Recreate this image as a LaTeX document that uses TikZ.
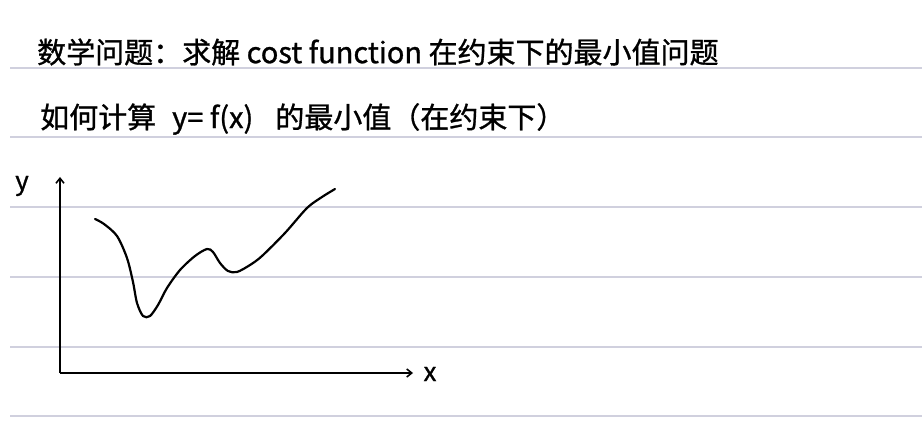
\documentclass[tikz,border=0pt]{standalone}
\usepackage{fontspec}
\newfontfamily\cjk[FakeBold=1]{Noto Sans CJK SC}
\usetikzlibrary{arrows.meta}
\definecolor{ruleline}{RGB}{208,208,222}
\begin{document}
\begin{tikzpicture}[x=1pt,y=-1pt,
    rule/.style ={draw=ruleline, line width=1.2pt},
    note/.style ={anchor=west, inner sep=0pt, font=\cjk\fontsize{29}{34}\selectfont},
    axis/.style ={line width=1.6pt, -{Straight Barb[length=5pt,width=8pt]}},
    lbl/.style  ={font=\cjk\fontsize{26}{30}\selectfont, inner sep=0pt},
    curve/.style={line width=2.2pt, line cap=round},
  ]
  \useasboundingbox (0,0) rectangle (922,425);
  % ruled paper
  \foreach \ry in {68,137,207,277,347,416}
    \draw[rule] (10,\ry) -- (922,\ry);

  % notes
  \node[note] (q1) at (37,52) {数学问题：求解 cost function 在约束下的最小值问题};
  \node[note] (q2) at (40,119) {如何计算\hspace{16pt}y= f(x)\hspace{22pt}的最小值（在约束下）};

  % axes
  \coordinate (o) at (60,373);
  \coordinate (ytop) at (60,177);
  \coordinate (xend) at (413,373);
  \draw[axis] (o) -- (ytop);
  \draw[axis] (o) -- (xend);
  \node[lbl] (ylbl) at (22,186) {y};
  \node[lbl] (xlbl) at (430,374) {x};

  % f(x)
  \draw[curve] plot[smooth] coordinates {(95,219) (104,224) (117,236) (127,258) (133,282)
    (137,303) (143,316) (150,316) (158,305) (167,288) (180,270) (195,256) (207,249)
    (213,252) (220,263) (228,271) (237,272) (250,265) (262,256) (285,233) (307,208)
    (322,197) (335,189)};
\end{tikzpicture}
\end{document}
